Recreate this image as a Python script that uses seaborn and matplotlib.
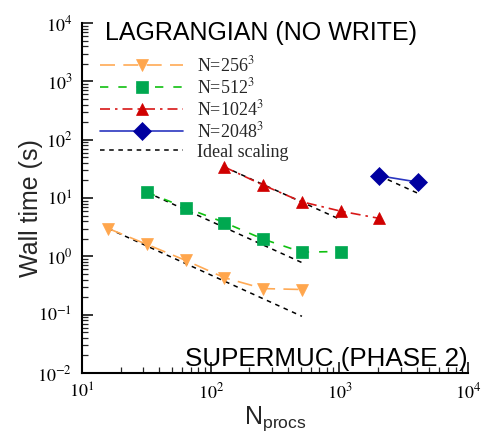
import numpy as np
import pandas as pd
import matplotlib
matplotlib.use("Agg")
import matplotlib.pyplot as plt
import seaborn as sns
from matplotlib.ticker import LogLocator, FuncFormatter, NullFormatter

# ---- data ----
np_256 = [16, 32, 64, 128, 256, 512]
t_256 = [3.0, 1.6, 0.85, 0.43, 0.28, 0.27]
np_512 = [32, 64, 128, 256, 512, 1024]
t_512 = [12.5, 6.8, 3.8, 1.97, 1.18, 1.21]
np_1024 = [128, 256, 512, 1024, 2048]
t_1024 = [34, 16.6, 8.6, 5.95, 4.47]
np_2048 = [2048, 4096]
t_2048 = [24, 18.7]
ideal_end = [512, 512, 1024, 4096]
labels = [r"N=256$^3$", r"N=512$^3$", r"N=1024$^3$", r"N=2048$^3$"]

sns.set_theme(style="white")
plt.rcParams['font.family'] = ['Liberation Serif', 'DejaVu Serif']
plt.rcParams['mathtext.fontset'] = 'stix'

fig = plt.figure(figsize=(4.89, 4.36), dpi=100)
ax = fig.add_axes([82/489, 1-373/436, (468-82)/489, (373-23)/436])

series = [
    (np_256, t_256, dict(color="#FFAA55", mfc="#FFA64D", marker="v", ls=(0, (9, 5)))),
    (np_512, t_512, dict(color="#10C010", mfc="#00A850", marker="s", ls=(0, (5, 6)))),
    (np_1024, t_1024, dict(color="#D81818", mfc="#D00000", marker="^", ls=(0, (6, 3, 1.5, 3)))),
    (np_2048, t_2048, dict(color="#2A36C0", mfc="#0000A0", marker="D", ls="-")),
]

for (xs, ys, st), lab in zip(series, labels):
    df = pd.DataFrame({"N": xs, "t": ys})
    sns.lineplot(data=df, x="N", y="t", ax=ax, color=st["color"], linestyle=st["ls"],
                 marker=st["marker"], markersize=9, markerfacecolor=st["mfc"],
                 markeredgecolor=st["mfc"], markeredgewidth=0.5, lw=1.2, label=lab,
                 legend=False)

for i, ((xs, ys, st), xe) in enumerate(zip(series, ideal_end)):
    xi = np.array([xs[0], xe], dtype=float)
    yi = ys[0] * xs[0] / xi
    sns.lineplot(x=xi, y=yi, ax=ax, color="black", linestyle=(0, (3, 3)), lw=1.1,
                 label="Ideal scaling" if i == 0 else None, legend=False, zorder=1)

ax.set_xscale("log")
ax.set_yscale("log")
ax.set_xlim(10, 1e4)
ax.set_ylim(1e-2, 1e4)

for s in ["top", "right"]:
    ax.spines[s].set_visible(False)
for s in ["left", "bottom"]:
    ax.spines[s].set_color("black")
    ax.spines[s].set_linewidth(1.5)

ax.xaxis.set_major_locator(LogLocator(base=10, numticks=10))
ax.yaxis.set_major_locator(LogLocator(base=10, numticks=10))
ax.xaxis.set_minor_locator(LogLocator(base=10, subs=np.arange(2, 10), numticks=20))
ax.yaxis.set_minor_locator(LogLocator(base=10, subs=np.arange(2, 10), numticks=20))
fmt = FuncFormatter(lambda v, p: r"$10^{%d}$" % int(round(np.log10(v))))
ax.xaxis.set_major_formatter(fmt)
ax.yaxis.set_major_formatter(fmt)
ax.xaxis.set_minor_formatter(NullFormatter())
ax.yaxis.set_minor_formatter(NullFormatter())
ax.tick_params(which="major", direction="in", length=8, width=1.1, labelsize=13,
               colors="black", bottom=True, left=True, top=False, right=False)
ax.tick_params(axis="x", which="major", pad=7)
ax.tick_params(axis="y", which="major", pad=7)
ax.tick_params(which="minor", direction="in", length=4, width=0.9,
               bottom=True, left=True, top=False, right=False)

ax.set_xlabel(r"N$_{\mathregular{procs}}$", fontsize=18, family="Liberation Sans")
ax.xaxis.label.set_math_fontfamily("dejavusans")
ax.xaxis.set_label_coords(0.5, -0.13, transform=ax.transAxes)
ax.xaxis.label.set_va("center")
ax.set_ylabel("Wall time (s)", fontsize=18, family="Liberation Sans")
ax.yaxis.set_label_coords(-0.1, 0.471, transform=ax.transAxes)

ax.text(0.06, 1.005, "LAGRANGIAN (NO WRITE)", transform=ax.transAxes, ha="left", va="top",
        fontsize=18, family="Liberation Sans", color="black")
ax.text(1.0, 0.02, "SUPERMUC (PHASE 2)", transform=ax.transAxes, ha="right", va="baseline",
        fontsize=18.7, family="Liberation Sans", color="black")

ax.legend(loc="upper left", bbox_to_anchor=(0.005, 0.955), frameon=False, fontsize=13,
          handlelength=4.6, numpoints=1, labelspacing=0.12, handletextpad=0.75)

fig.savefig("out.png", dpi=100)
